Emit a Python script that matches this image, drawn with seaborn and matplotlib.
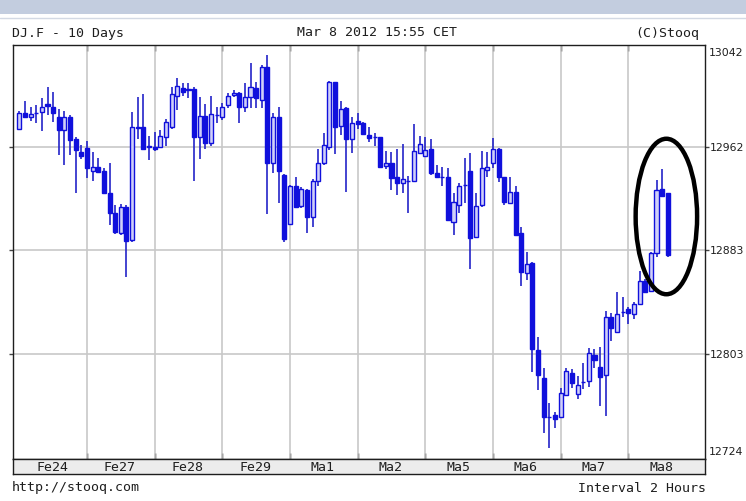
import numpy as np
import matplotlib
matplotlib.use("Agg")
import matplotlib.pyplot as plt
from matplotlib.patches import Rectangle, Ellipse
from matplotlib.lines import Line2D
import seaborn as sns

# 2-hour candles, DJ futures, Feb 24 - Mar 8 2012
opens = [12976.0, 12988.4, 12985.8, 12988.5, 12989.6, 12995.3, 12993.5, 12985.8, 12975.5, 12985.8, 12968.3, 12958.8,
         12961.8, 12944.1, 12947.2, 12944.1, 12927.1, 12911.7, 12896.2, 12916.3, 12890.6, 12977.4, 12978.1, 12962.4,
         12962.2, 12962.2, 12969.9, 12977.6, 13001.7, 13007.7, 13007.1, 13006.9, 12970.3, 12986.3, 12965.2, 12987.0,
         12985.8, 12994.8, 13002.5, 13003.8, 12993.0, 13000.7, 13007.7, 12998.7, 13024.4, 12949.8, 12985.8, 12940.8,
         12903.0, 12932.3, 12916.8, 12929.2, 12908.6, 12936.4, 12949.8, 12962.6, 13012.3, 12978.6, 12992.3, 12968.3,
         12982.7, 12980.7, 12971.6, 12970.2, 12969.9, 12947.7, 12949.8, 12939.0, 12934.4, 12936.3, 12936.4, 12958.0,
         12955.4, 12960.6, 12942.6, 12939.0, 12939.5, 12904.7, 12917.6, 12933.0, 12944.1, 12892.7, 12917.6, 12944.6,
         12949.8, 12960.6, 12939.0, 12919.4, 12927.9, 12896.2, 12864.9, 12872.6, 12805.7, 12783.9, 12754.1, 12755.5,
         12753.8, 12771.0, 12788.2, 12771.8, 12781.0, 12782.0, 12801.9, 12792.8, 12786.4, 12831.4, 12819.8, 12835.2,
         12837.1, 12833.5, 12841.2, 12859.2, 12851.5, 12880.3, 12929.7, 12926.7]
highs = [12990.2, 12998.1, 12993.0, 12994.8, 13000.0, 13008.5, 13005.1, 12991.5, 12990.4, 12987.1, 12969.9, 12963.9,
         12967.2, 12958.8, 12953.7, 12945.9, 12950.3, 12917.6, 12918.4, 12917.6, 12989.6, 13001.2, 13003.3, 12970.9,
         12974.2, 12975.5, 12983.8, 13008.5, 13015.4, 13011.5, 13012.0, 13008.5, 13000.7, 12995.6, 13001.7, 12993.0,
         12996.1, 13004.3, 13006.4, 13005.1, 13012.0, 13027.4, 13012.8, 13025.7, 13033.4, 12988.9, 12993.0, 12941.5,
         12933.1, 12939.0, 12931.7, 12929.7, 12937.5, 12960.6, 12973.0, 13013.6, 13012.8, 12998.1, 12993.0, 12985.8,
         12988.9, 12981.9, 12978.1, 12973.4, 12970.3, 12959.5, 12958.8, 12960.6, 12964.7, 12940.0, 12980.1, 12970.9,
         12969.9, 12968.3, 12948.5, 12946.7, 12945.9, 12927.1, 12934.8, 12953.7, 12957.5, 12927.1, 12959.5, 12958.8,
         12969.1, 12961.4, 12939.0, 12939.0, 12932.3, 12900.4, 12881.6, 12873.9, 12815.5, 12791.6, 12765.0, 12758.1,
         12776.2, 12791.6, 12790.8, 12785.6, 12795.9, 12807.0, 12806.2, 12808.3, 12836.0, 12834.5, 12850.7, 12846.4,
         12839.1, 12843.0, 12866.9, 12860.3, 12881.6, 12936.9, 12945.2, 12926.7]
lows = [12975.5, 12985.0, 12982.7, 12981.1, 12975.0, 12987.1, 12981.9, 12956.2, 12948.5, 12956.2, 12927.1, 12952.9,
        12938.2, 12936.1, 12942.6, 12926.7, 12902.2, 12895.2, 12894.5, 12862.3, 12889.3, 12968.3, 12960.1, 12952.4,
        12959.5, 12961.8, 12963.2, 12976.0, 12990.9, 13001.7, 13000.0, 12936.4, 12952.9, 12960.6, 12963.2, 12980.7,
        12983.2, 12992.3, 13001.2, 12981.1, 12989.6, 12992.3, 12992.3, 12992.3, 12910.7, 12942.6, 12919.4, 12889.3,
        12902.2, 12915.1, 12915.1, 12896.2, 12900.9, 12932.3, 12948.5, 12960.1, 12957.0, 12971.6, 12927.9, 12958.0,
        12976.3, 12971.6, 12966.5, 12963.2, 12946.7, 12945.2, 12929.2, 12925.3, 12927.1, 12911.7, 12935.6, 12957.0,
        12954.4, 12940.8, 12938.2, 12932.3, 12905.5, 12894.5, 12911.7, 12918.9, 12868.0, 12891.9, 12916.3, 12939.5,
        12945.9, 12935.6, 12917.6, 12918.9, 12893.7, 12855.1, 12859.7, 12789.0, 12774.8, 12741.4, 12729.8, 12745.3,
        12753.0, 12770.2, 12776.2, 12767.7, 12775.4, 12777.4, 12791.6, 12762.5, 12754.8, 12812.9, 12818.6, 12830.9,
        12825.8, 12829.4, 12840.4, 12849.5, 12850.7, 12877.7, 12924.2, 12877.3]
closes = [12988.9, 12985.8, 12987.6, 12989.0, 12993.5, 12994.0, 12988.9, 12975.5, 12985.8, 12967.8, 12960.1, 12955.4,
          12945.9, 12946.7, 12943.3, 12927.1, 12911.7, 12897.0, 12916.3, 12890.1, 12978.1, 12977.8, 12960.6, 12962.8,
          12960.6, 12970.9, 12981.9, 13003.3, 13009.5, 13005.1, 13006.7, 12970.3, 12986.3, 12965.2, 12987.9, 12987.2,
          12993.5, 13001.7, 13004.3, 12993.5, 13001.2, 13008.5, 13000.0, 13024.4, 12949.8, 12985.8, 12944.1, 12891.1,
          12932.3, 12916.3, 12929.7, 12908.1, 12936.4, 12949.8, 12963.9, 13012.8, 12977.6, 12991.5, 12968.3, 12981.1,
          12979.8, 12972.4, 12969.1, 12970.4, 12947.2, 12950.3, 12938.2, 12934.4, 12937.5, 12936.5, 12959.5, 12964.7,
          12960.1, 12942.1, 12939.0, 12939.1, 12906.0, 12920.2, 12932.3, 12933.2, 12892.5, 12916.8, 12945.9, 12947.2,
          12960.6, 12939.0, 12920.2, 12927.9, 12894.5, 12866.1, 12872.1, 12806.3, 12786.4, 12754.2, 12754.3, 12752.2,
          12772.8, 12789.7, 12780.0, 12778.7, 12781.4, 12803.6, 12798.0, 12784.6, 12830.9, 12822.5, 12833.5, 12835.4,
          12834.0, 12841.2, 12859.2, 12850.7, 12880.8, 12929.2, 12924.6, 12879.0]

days = ["Fe24", "Fe27", "Fe28", "Fe29", "Ma1", "Ma2", "Ma5", "Ma6", "Ma7", "Ma8"]
bars_per_day = 12
grid_levels = [12962, 12883, 12803]
y_top, y_bottom = 13041.1, 12721.6
edge_labels = ["13042", "12724"]

sns.set_style("white")
plt.rcParams["font.family"] = ["DejaVu Sans"]
mono = "DejaVu Sans Mono"
ink = "#1e1e1e"

W, H = 746, 501
fig = plt.figure(figsize=(W / 100, H / 100), dpi=100)
fig.patch.set_facecolor("white")

# top decorative strip
fig.patches.append(Rectangle((0, 1 - 14 / H), 1, 14 / H, transform=fig.transFigure,
                             facecolor="#c3cddf", edgecolor="none"))
fig.lines.append(Line2D([0, 1], [1 - 17.5 / H] * 2, transform=fig.transFigure, color="#d3d9e4", lw=1))

ax = fig.add_axes([13 / W, 1 - 459 / H, 692 / W, 414 / H])
x = np.arange(len(opens))
o, hi, lo, c = map(np.array, (opens, highs, lows, closes))
up = c >= o

blue = "#1010dc"
ax.vlines(x, lo, hi, color="#2424c8", lw=1.2, zorder=3)
ax.bar(x[up], (c - o)[up], bottom=o[up], width=0.72, facecolor="#d0d0f8",
       edgecolor=blue, linewidth=1.0, zorder=4)
ax.bar(x[~up], (c - o)[~up], bottom=o[~up], width=0.72, facecolor=blue,
       edgecolor=blue, linewidth=1.0, zorder=4)

ax.set_xlim(-1.12, 121.6)
ax.set_ylim(y_bottom, y_top)
bounds = [bars_per_day * d for d in range(1, len(days))]
for b in bounds:
    ax.axvline(b, color="#c8c8c8", lw=1.2, zorder=1)
for g in grid_levels:
    ax.axhline(g, color="#c8c8c8", lw=1.2, zorder=1)

ax.set_xticks(bounds)
ax.set_xticklabels([])
ax.tick_params(axis="x", direction="in", length=4, width=1, color="black",
               top=True, bottom=True)
ax.set_yticks(grid_levels)
ax.set_yticklabels([str(g) for g in grid_levels])
ax.yaxis.tick_right()
ax.tick_params(axis="y", direction="out", length=3, width=1, color="#444444",
               left=True, right=True, labelleft=False, labelright=True,
               labelsize=7.8, labelcolor=ink, pad=0.5)
for s in ax.spines.values():
    s.set_color(ink)
    s.set_linewidth(1)
    s.set_visible(True)

fig.text(708.5 / W, 1 - 53 / H, edge_labels[0], fontsize=7.8, color=ink, va="center")
fig.text(708.5 / W, 1 - 452 / H, edge_labels[1], fontsize=7.8, color=ink, va="center")

# highlight ring round the last three bars
last = x[-3:]
ell_x = last.mean() + 0.75
ell_y = (hi[-3:].max() + lo[-3:].min()) / 2 - 2.5
ax.add_patch(Ellipse((ell_x, ell_y), width=10.9, height=120, fill=False,
                     edgecolor="black", lw=3.2, zorder=6))

# date band
band = fig.add_axes([13 / W, 1 - 474 / H, 692 / W, 15 / H])
band.set_facecolor("#ececec")
band.set_xlim(ax.get_xlim())
band.set_ylim(0, 1)
band.set_xticks([])
band.set_yticks([])
for s in band.spines.values():
    s.set_color(ink)
    s.set_linewidth(1)
    s.set_visible(True)
for d, lab in enumerate(days):
    band.text(bars_per_day * d + 5.8, 0.45, lab, family=mono, fontsize=9.5,
              color=ink, ha="center", va="center")

# header and footer
fig.text(12 / W, 1 - 33 / H, "DJ.F - 10 Days", family=mono, fontsize=9.5, color=ink, va="center")
fig.text(377 / W, 1 - 33 / H, "Mar 8 2012 15:55 CET", family=mono, fontsize=9.5, color=ink,
         va="center", ha="center")
fig.text(699 / W, 1 - 33 / H, "(C)Stooq", family=mono, fontsize=9.5, color=ink, va="center", ha="right")
fig.text(12 / W, 1 - 488 / H, "http://stooq.com", family=mono, fontsize=9.5, color=ink, va="center")
fig.text(706 / W, 1 - 488 / H, "Interval 2 Hours", family=mono, fontsize=9.5, color=ink,
         va="center", ha="right")

fig.savefig("out.png", dpi=100)
